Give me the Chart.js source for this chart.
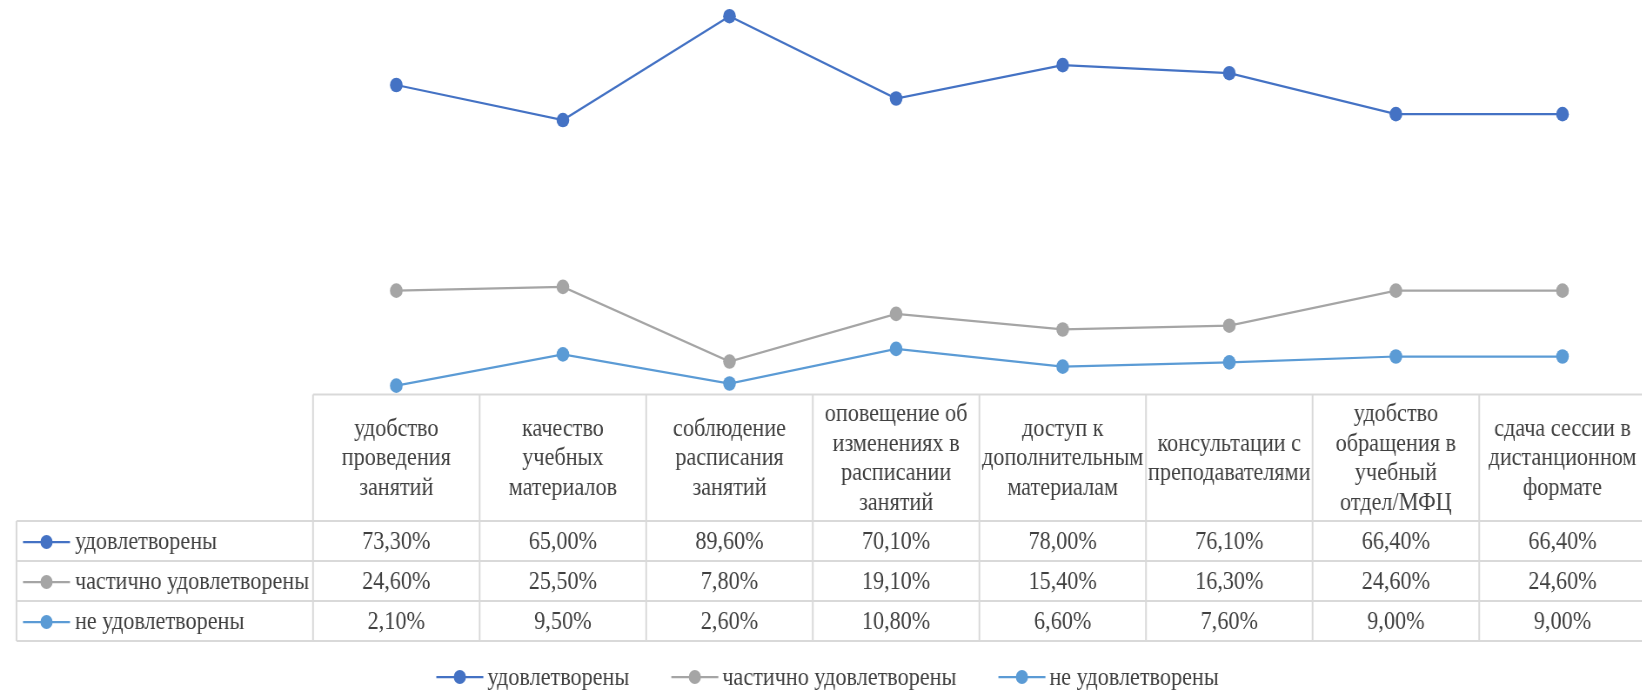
<!DOCTYPE html>
<html>
<head>
<meta charset="utf-8">
<script src="https://cdn.jsdelivr.net/npm/chart.js@4.4.1/dist/chart.umd.min.js"></script>
<style>
  html, body { margin: 0; padding: 0; background: #fff; overflow: hidden; }
  /* the source picture is slightly squeezed sideways, so draw wide and squeeze */
  #wrap { width: 1899px; height: 690px; transform: scaleX(0.87); transform-origin: 0 0; }
</style>
</head>
<body>
<div id="wrap"><canvas id="chart" width="1899" height="690"></canvas></div>
<script>
// categories (header lines as they wrap in the table)
const categories = [
  ["удобство", "проведения", "занятий"],
  ["качество", "учебных", "материалов"],
  ["соблюдение", "расписания", "занятий"],
  ["оповещение об", "изменениях в", "расписании", "занятий"],
  ["доступ к", "дополнительным", "материалам"],
  ["консультации с", "преподавателями"],
  ["удобство", "обращения в", "учебный", "отдел/МФЦ"],
  ["сдача сессии в", "дистанционном", "формате"]
];
const seriesNames = ["удовлетворены", "частично удовлетворены", "не удовлетворены"];
const satisfied = [73.3, 65.0, 89.6, 70.1, 78.0, 76.1, 66.4, 66.4];
const partly = [24.6, 25.5, 7.8, 19.1, 15.4, 16.3, 24.6, 24.6];
const notSatisfied = [2.1, 9.5, 2.6, 10.8, 6.6, 7.6, 9.0, 9.0];

const seriesColors = ["#4472C4", "#A5A5A5", "#5B9BD5"];

const S = 0.87; // horizontal squeeze of the wrapper
const FONT = '25.5px "Liberation Serif", "Times New Roman", serif';
const TEXT = "#404040";
const GRID = "#d9d9d9";

function fmt(v) {
  return v.toFixed(2).replace(".", ",") + "%";
}

function drawKey(ctx, x0, y, color) {
  ctx.strokeStyle = color;
  ctx.lineWidth = 2.25;
  ctx.beginPath();
  ctx.moveTo(x0, y);
  ctx.lineTo(x0 + 47 / S, y);
  ctx.stroke();
  ctx.fillStyle = color;
  ctx.beginPath();
  ctx.arc(x0 + 23.5 / S, y, 7, 0, Math.PI * 2);
  ctx.fill();
}

// data table + legend under the plot, like the Excel original
const tablePlugin = {
  id: "dataTable",
  afterDraw(chart) {
    const ctx = chart.ctx;
    const xs = chart.scales.x;
    const area = chart.chartArea;
    const n = categories.length;
    const colW = (area.right - area.left) / n;
    const top = area.bottom;
    const headBottom = 521;
    const rowH = 40;
    const tableLeft = 16.5 / S;
    const right = chart.width;
    const bottom = headBottom + 3 * rowH;

    ctx.save();
    ctx.strokeStyle = GRID;
    ctx.lineWidth = 2;
    const line = (a, b, c, d) => { ctx.beginPath(); ctx.moveTo(a, b); ctx.lineTo(c, d); ctx.stroke(); };
    line(area.left, top, right, top);
    for (let r = 0; r <= 3; r++) {
      line(tableLeft, headBottom + r * rowH, right, headBottom + r * rowH);
    }
    // the last column runs off the picture, so no closing border
    for (let i = 0; i < n; i++) {
      const xx = area.left + i * colW;
      line(xx, top, xx, bottom);
    }
    line(tableLeft, headBottom, tableLeft, bottom);

    ctx.font = FONT;
    ctx.fillStyle = TEXT;
    ctx.textAlign = "center";
    ctx.textBaseline = "middle";
    const mid = (top + headBottom) / 2;
    categories.forEach((lines, i) => {
      const cx = xs.getPixelForValue(i);
      lines.forEach((t, k) => {
        ctx.fillText(t, cx, mid + (k - (lines.length - 1) / 2) * 29.5 + 1);
      });
    });

    chart.data.datasets.forEach((ds, r) => {
      const cy = headBottom + r * rowH + rowH / 2 + 1;
      drawKey(ctx, 23 / S, cy, seriesColors[r]);
      ctx.font = FONT;
      ctx.fillStyle = TEXT;
      ctx.textAlign = "left";
      ctx.fillText(seriesNames[r], 75 / S, cy);
      ctx.textAlign = "center";
      ds.data.forEach((v, i) => {
        ctx.fillText(fmt(v), xs.getPixelForValue(i), cy);
      });
    });

    // legend
    ctx.font = FONT;
    const keyW = 47 / S, gap = 4 / S, spacing = 42 / S;
    const widths = seriesNames.map(t => ctx.measureText(t).width);
    const total = widths.reduce((a, w) => a + keyW + gap + w, 0) + spacing * (seriesNames.length - 1);
    let lx = 827.5 / S - total / 2;
    const ly = 677;
    seriesNames.forEach((t, r) => {
      drawKey(ctx, lx, ly, seriesColors[r]);
      ctx.fillStyle = TEXT;
      ctx.textAlign = "left";
      ctx.fillText(t, lx + keyW + gap, ly + 1);
      lx += keyW + gap + widths[r] + spacing;
    });
    ctx.restore();
  }
};

const values = [satisfied, partly, notSatisfied];

new Chart(document.getElementById("chart"), {
  type: "line",
  data: {
    labels: categories.map(c => c.join(" ")),
    datasets: values.map((d, r) => ({
      label: seriesNames[r],
      data: d,
      borderColor: seriesColors[r],
      backgroundColor: seriesColors[r],
      pointBackgroundColor: seriesColors[r],
      pointBorderColor: seriesColors[r],
      clip: false
    }))
  },
  options: {
    responsive: false,
    animation: false,
    devicePixelRatio: 1,
    layout: { padding: { left: 313 / S, right: 0, top: 14.5, bottom: 690 - 394.5 } },
    scales: {
      x: { display: false, offset: true },
      y: { display: false, min: 0, max: 90 }
    },
    elements: {
      line: { borderWidth: 2.25, tension: 0 },
      point: { radius: 7.3, borderWidth: 0, hoverRadius: 7.3 }
    },
    plugins: {
      legend: { display: false },
      tooltip: { enabled: false }
    }
  },
  plugins: [tablePlugin]
});
</script>
</body>
</html>
